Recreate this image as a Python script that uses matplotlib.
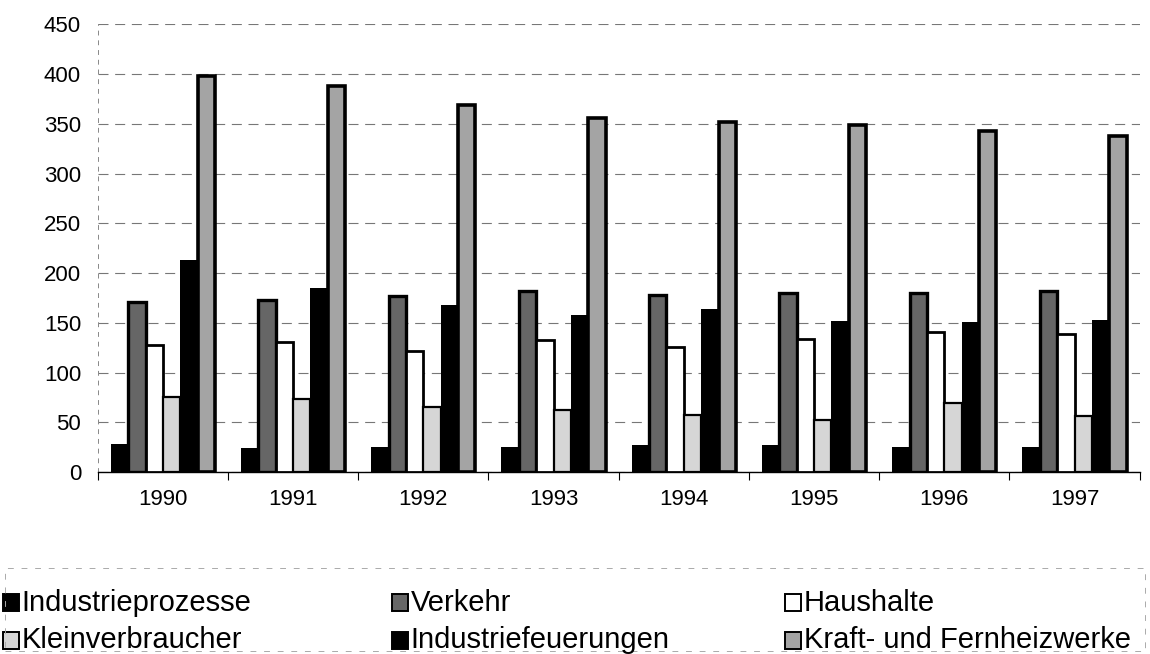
import matplotlib.pyplot as plt
import matplotlib.patches as mpatches
import numpy as np

plt.rcParams['font.family'] = ['Liberation Sans', 'DejaVu Sans']

# Data
years = ['1990', '1991', '1992', '1993', '1994', '1995', '1996', '1997']
series = ['Industrieprozesse', 'Verkehr', 'Haushalte',
          'Kleinverbraucher', 'Industriefeuerungen', 'Kraft- und Fernheizwerke']
industrieprozesse = [28, 24, 25, 25, 27, 27, 25, 25]
verkehr = [171, 173, 177, 182, 178, 180, 180, 182]
haushalte = [128, 131, 122, 133, 126, 134, 141, 139]
kleinverbraucher = [76, 74, 65, 62, 57, 52, 69, 56]
industriefeuerungen = [213, 185, 168, 158, 164, 152, 151, 153]
kraftwerke = [398, 388, 369, 356, 352, 349, 343, 338]

values = [industrieprozesse, verkehr, haushalte,
          kleinverbraucher, industriefeuerungen, kraftwerke]
faces = ['black', '#666666', 'white', '#d6d6d6', 'black', '#a4a4a4']
lws = [0, 2.4, 2.0, 1.6, 0, 2.6]

fig = plt.figure(figsize=(11.5, 6.54), dpi=100)
ax = fig.add_axes([0.085, 0.278, 0.906, 0.685])

x = np.arange(len(years))
bw = 0.8 / len(series)
for i, (vals, fc, lw) in enumerate(zip(values, faces, lws)):
    ax.bar(x - 0.4 + bw * (i + 0.5), vals, width=bw, color=fc,
           edgecolor='black', linewidth=lw, zorder=3)

ax.set_xlim(-0.5, len(years) - 0.5)
ax.set_ylim(0, 450)
ax.set_yticks(np.arange(0, 451, 50))
ax.yaxis.grid(True, linestyle=(0, (9, 6)), color='#777777', linewidth=0.8, zorder=0)
ax.tick_params(axis='y', length=0, labelsize=16, pad=12)

ax.set_xticks(x)
ax.set_xticklabels(years, fontsize=16)
ax.set_xticks(np.arange(-0.5, len(years), 1), minor=True)
ax.tick_params(axis='x', which='major', length=0, pad=12)
ax.tick_params(axis='x', which='minor', length=6, width=0.8, direction='out')

for s in ['top', 'right']:
    ax.spines[s].set_visible(False)
ax.spines['left'].set_linestyle((0, (4, 6)))
ax.spines['left'].set_color('#888888')
ax.spines['left'].set_linewidth(0.7)
ax.spines['bottom'].set_linewidth(1.0)

# Legend drawn as boxes and labels below the plot
col_x = [0.003, 0.341, 0.683]
row_y = [0.078, 0.021]
box_w, box_h = 16 / 1150, 17 / 654
for i, label in enumerate(series):
    cx = col_x[i % 3]
    ry = row_y[i // 3]
    fig.patches.append(mpatches.Rectangle((cx, ry - box_h / 2), box_w, box_h,
                                          transform=fig.transFigure,
                                          facecolor=faces[i], edgecolor='black',
                                          linewidth=1.4, figure=fig))
    fig.text(cx + box_w + 0.002, ry, label, fontsize=21,
             ha='left', va='center')

# Faint dashed frame around legend area
fig.patches.append(mpatches.Rectangle((0.004, 0.004), 0.992, 0.128, transform=fig.transFigure,
                                      facecolor='none', edgecolor='#aaaaaa',
                                      linewidth=0.7, linestyle=(0, (6, 8)), figure=fig))

fig.savefig('out.png', dpi=100)
